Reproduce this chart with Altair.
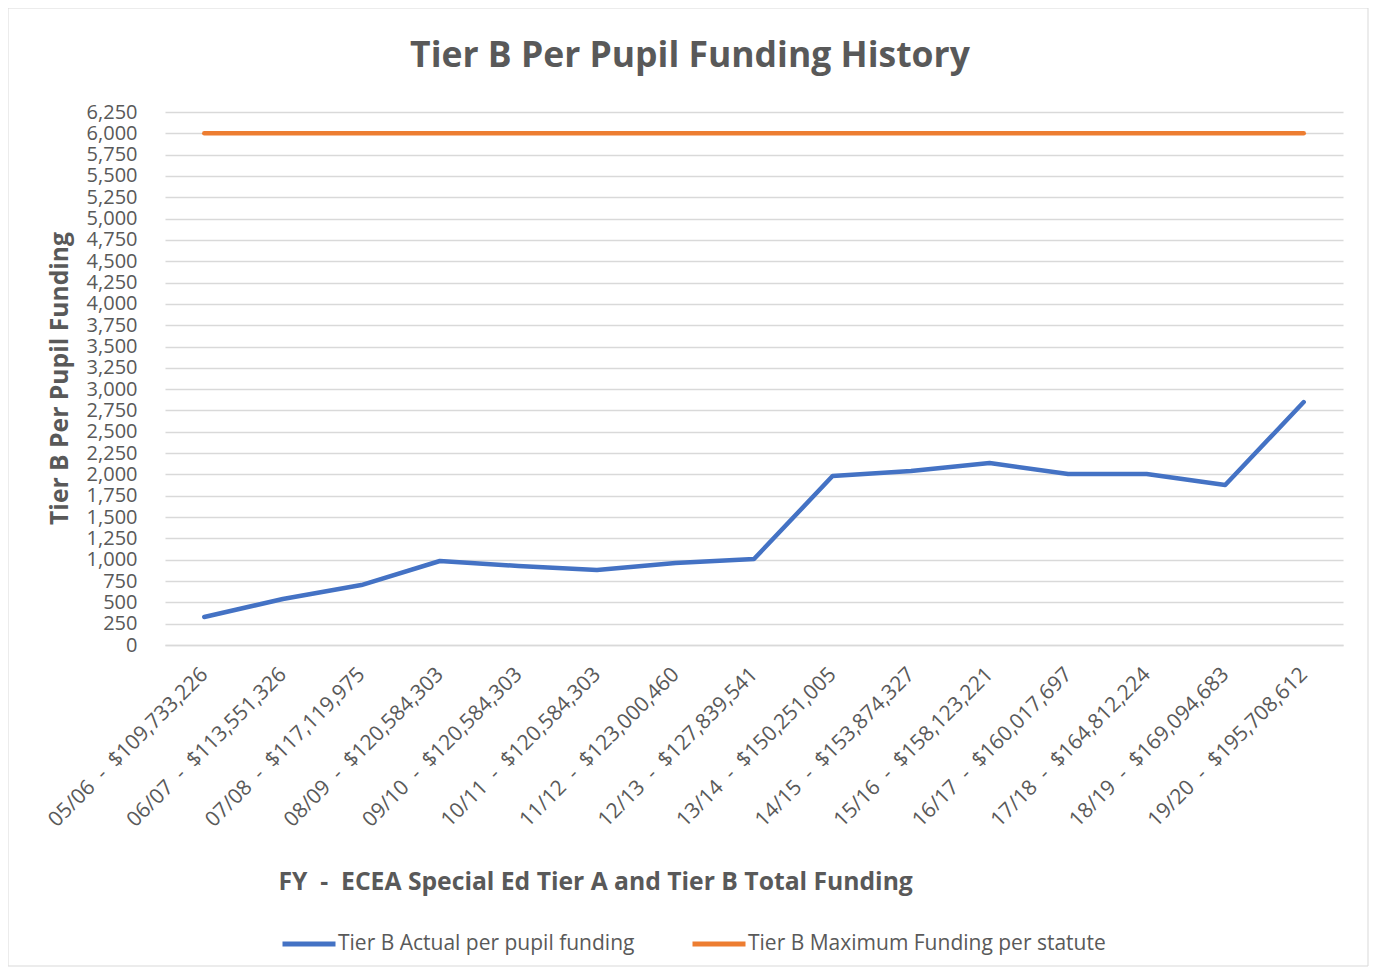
import altair as alt
import pandas as pd

years = ["05/06", "06/07", "07/08", "08/09", "09/10", "10/11", "11/12", "12/13",
         "13/14", "14/15", "15/16", "16/17", "17/18", "18/19", "19/20"]
totals = ["$109,733,226", "$113,551,326", "$117,119,975", "$120,584,303", "$120,584,303",
          "$120,584,303", "$123,000,460", "$127,839,541", "$150,251,005", "$153,874,327",
          "$158,123,221", "$160,017,697", "$164,812,224", "$169,094,683", "$195,708,612"]
actual = [328, 540, 703, 985, 926, 880, 961, 1008, 1981, 2040, 2134, 2005, 2005, 1876, 2849]
maximum = [6000, 6000, 6000, 6000, 6000, 6000, 6000, 6000, 6000, 6000, 6000, 6000, 6000, 6000, 6000]
series_names = ["Tier B Actual per pupil funding", "Tier B Maximum Funding per statute"]
series_colors = ["#4472C4", "#ED7D31"]
y_ticks = list(range(0, 6251, 250))

NB = "\u00a0"
labels = [f"{y}{NB}{NB}-{NB}{NB}{t}" for y, t in zip(years, totals)]

rows = []
for lab, a, m in zip(labels, actual, maximum):
    rows.append({"label": lab, "value": a, "series": series_names[0]})
    rows.append({"label": lab, "value": m, "series": series_names[1]})
df = pd.DataFrame(rows)

FONT = "Open Sans"
GRAY = "#595959"
W, H = 1178, 533

lines = alt.Chart(df).mark_line(strokeWidth=4.5, strokeCap="round", strokeJoin="round").encode(
    x=alt.X("label:N", sort=labels,
            scale=alt.Scale(type="point", padding=0.5),
            axis=alt.Axis(title="FY" + NB + NB + "-" + NB + NB + "ECEA Special Ed Tier A and Tier B Total Funding",
                          labelAngle=-45, labelAlign="right", labelBaseline="middle",
                          labelPadding=26, ticks=False, tickSize=0, grid=False,
                          domainColor="#d9d9d9", domainWidth=1.5,
                          labelFontSize=21, labelColor=GRAY, labelFont=FONT, labelLimit=500,
                          titleX=113, titleY=237, titleAlign="left", titleBaseline="middle",
                          titleFontSize=24.7, titleFontWeight="bold", titleColor=GRAY, titleFont=FONT)),
    y=alt.Y("value:Q", scale=alt.Scale(domain=[0, 6250], nice=False, zero=True),
            axis=alt.Axis(title="Tier B Per Pupil Funding", values=y_ticks, format=",.0f",
                          ticks=False, tickSize=0, domain=False, labelPadding=28,
                          gridColor="#d9d9d9", gridWidth=1.5,
                          labelFontSize=20, labelColor=GRAY, labelFont=FONT,
                          titleX=-105, titleY=266, titleAngle=-90, titleAlign="center",
                          titleBaseline="middle",
                          titleFontSize=24.7, titleFontWeight="bold", titleColor=GRAY, titleFont=FONT)),
    color=alt.Color("series:N",
                    scale=alt.Scale(domain=series_names, range=series_colors),
                    legend=alt.Legend(title=None, orient="none", legendX=115, legendY=803,
                                      direction="horizontal", symbolType="stroke",
                                      symbolStrokeWidth=5, symbolSize=2809,
                                      labelFontSize=21, labelColor=GRAY, labelFont=FONT,
                                      labelLimit=600, labelOffset=0, columnPadding=47)),
)

frame = alt.Chart(pd.DataFrame({"a": [0]})).mark_rect(fill=None, stroke="#d9d9d9", strokeWidth=1).encode(
    x=alt.value(-157), x2=alt.value(1203), y=alt.value(-104), y2=alt.value(854)
)

chart = alt.layer(frame, lines).properties(
    width=W, height=H,
    title=alt.TitleParams("Tier B Per Pupil Funding History", fontSize=35.5, fontWeight="bold",
                          color=GRAY, font=FONT, anchor="middle", frame="group", dx=-64, offset=-67),
    autosize=alt.AutoSizeParams(type="none"),
    padding={"left": 157, "top": 104, "right": 26, "bottom": 322},
).configure_view(stroke=None)

chart.save("out.html", embed_options={"renderer": "svg", "actions": False})
